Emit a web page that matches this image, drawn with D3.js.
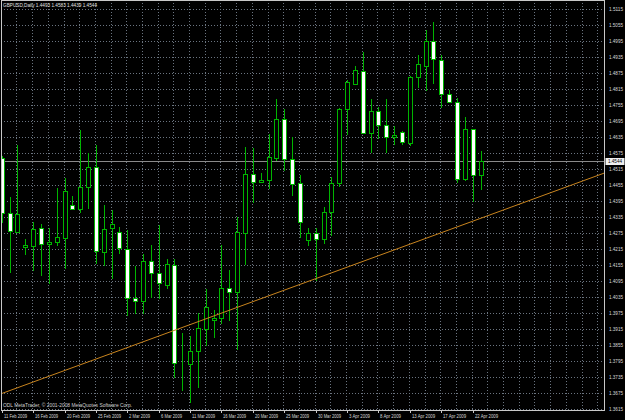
<!DOCTYPE html>
<html><head><meta charset="utf-8">
<script src="https://cdn.jsdelivr.net/npm/d3@7"></script>
<style>html,body{margin:0;padding:0;background:#000;}svg{display:block;}</style>
</head><body>
<script>
// ---------- data ----------
const symbol = "GBPUSD,Daily";
const dates = ["11 Feb","12 Feb","13 Feb","15 Feb","16 Feb","17 Feb","18 Feb","19 Feb","20 Feb",
 "22 Feb","23 Feb","24 Feb","25 Feb","26 Feb","27 Feb",
 "1 Mar","2 Mar","3 Mar","4 Mar","5 Mar","6 Mar",
 "8 Mar","9 Mar","10 Mar","11 Mar","12 Mar","13 Mar",
 "15 Mar","16 Mar","17 Mar","18 Mar","19 Mar","20 Mar",
 "22 Mar","23 Mar","24 Mar","25 Mar","26 Mar","27 Mar",
 "29 Mar","30 Mar","31 Mar","1 Apr","2 Apr","3 Apr",
 "5 Apr","6 Apr","7 Apr","8 Apr","9 Apr","10 Apr",
 "12 Apr","13 Apr","14 Apr","15 Apr","16 Apr","17 Apr",
 "19 Apr","20 Apr","21 Apr","22 Apr","23 Apr"];
const open  = [1.4555,1.4349,1.4280,1.4223,1.4227,1.4293,1.4233,1.4242,1.4257,1.4379,1.4364,1.4446,1.4521,1.4203,1.4293,1.4278,1.4214,1.4032,1.4020,1.4170,1.4124,1.4080,1.4154,1.3785,1.3783,1.3833,1.3914,1.3949,1.3955,1.4068,1.4055,1.4274,1.4495,1.4465,1.4474,1.4557,1.4701,1.4551,1.4461,1.4249,1.4274,1.4251,1.4355,1.4461,1.4739,1.4834,1.4884,1.4649,1.4731,1.4679,1.4634,1.4653,1.4611,1.4859,1.4902,1.4996,1.4924,1.4796,1.4767,1.4479,1.4664,1.4493];
const high  = [1.4562,1.4411,1.4605,1.4251,1.4317,1.4308,1.4295,1.4443,1.4480,1.4414,1.4661,1.4576,1.4605,1.4380,1.4361,1.4299,1.4286,1.4152,1.4196,1.4230,1.4305,1.4176,1.4176,1.3899,1.3889,1.3975,1.4064,1.3986,1.4230,1.4136,1.4334,1.4596,1.4593,1.4499,1.4646,1.4776,1.4739,1.4634,1.4493,1.4293,1.4293,1.4374,1.4484,1.4743,1.4849,1.4901,1.4955,1.4776,1.4746,1.4776,1.4676,1.4659,1.4864,1.4943,1.5036,1.5067,1.4943,1.4811,1.4780,1.4709,1.4664,1.4583];
const low   = [1.4316,1.4130,1.4279,1.4195,1.4136,1.4118,1.4086,1.4230,1.4143,1.4366,1.4355,1.4370,1.4161,1.4155,1.4105,1.4199,1.3968,1.3974,1.3974,1.4036,1.4030,1.4068,1.3736,1.3686,1.3642,1.3699,1.3855,1.3886,1.3938,1.3949,1.3840,1.4159,1.4392,1.4465,1.4445,1.4549,1.4511,1.4418,1.4261,1.4230,1.4099,1.4236,1.4268,1.4451,1.4646,1.4834,1.4649,1.4580,1.4630,1.4580,1.4609,1.4609,1.4605,1.4824,1.4811,1.4836,1.4746,1.4767,1.4467,1.4474,1.4396,1.4439];
const close = [1.4349,1.4283,1.4345,1.4230,1.4290,1.4234,1.4242,1.4259,1.4433,1.4366,1.4449,1.4521,1.4208,1.4290,1.4308,1.4218,1.4030,1.4020,1.4170,1.4124,1.4089,1.4158,1.3786,1.3785,1.3833,1.3918,1.3996,1.3956,1.4068,1.4055,1.4278,1.4495,1.4467,1.4474,1.4561,1.4701,1.4551,1.4459,1.4317,1.4274,1.4253,1.4355,1.4461,1.4739,1.4842,1.4886,1.4651,1.4734,1.4679,1.4634,1.4643,1.4617,1.4861,1.4909,1.4996,1.4928,1.4796,1.4767,1.4476,1.4664,1.4494,1.4544];
const priceTicks = ["1.5115","1.5055","1.4995","1.4935","1.4875","1.4815","1.4755","1.4695","1.4635","1.4575","1.4515","1.4455","1.4395","1.4335","1.4275","1.4215","1.4155","1.4095","1.4035","1.3975","1.3915","1.3855","1.3795","1.3735","1.3675","1.3615"];
const dateTickIdx = [0,4,8,12,16,20,24,28,32,36,40,44,48,52,56,60];
const dateTickLabels = ["11 Feb 2009","16 Feb 2009","20 Feb 2009","25 Feb 2009","2 Mar 2009","6 Mar 2009","11 Mar 2009","16 Mar 2009","20 Mar 2009","25 Mar 2009","30 Mar 2009","3 Apr 2009","8 Apr 2009","13 Apr 2009","17 Apr 2009","22 Apr 2009"];
const bidPrice = 1.4544;
const trendBars = [0, 61];
const trendPrices = [1.3673, 1.4330];
const copyright = "ODL MetaTrader, \u00A9 2001-2008 MetaQuotes Software Corp.";

// ---------- drawing ----------
const W = 625, H = 420;
const plotL = 1, plotR = 604, plotT = 0, plotB = 410;
const FONT = "'Liberation Sans', Arial, sans-serif";
const svg = d3.select("body").append("svg").attr("width", W).attr("height", H)
  .style("font-family", FONT);
svg.append("rect").attr("width", W).attr("height", H).attr("fill", "#000");

const y = d3.scaleLinear().domain([1.3615, 1.5115]).range([409, 9]);
const x = d3.scaleLinear().domain([0, 61]).range([1.7, 1.7 + 61 * 7.85]);
const maxIdx = Math.floor(x.invert(plotR - 2));

const grid = svg.append("g").attr("stroke", "#6a7480").attr("stroke-width", 1).attr("stroke-dasharray", "1,2");
priceTicks.forEach(t => {
  const yy = Math.round(y(+t)) + 0.5;
  grid.append("line").attr("x1", plotL).attr("x2", plotR).attr("y1", yy).attr("y2", yy);
});
d3.range(0, maxIdx + 1, 2).forEach(i => {
  const xx = Math.round(x(i)) - 0.5;
  grid.append("line").attr("x1", xx).attr("x2", xx).attr("y1", plotT).attr("y2", plotB);
});

// clip
svg.append("clipPath").attr("id", "clip").append("rect")
  .attr("x", plotL).attr("y", plotT).attr("width", plotR - plotL).attr("height", plotB - plotT);
const plot = svg.append("g").attr("clip-path", "url(#clip)");

// bid line
const by = Math.round(y(bidPrice)) + 0.5;
plot.append("line").attr("x1", plotL).attr("x2", plotR).attr("y1", by).attr("y2", by)
  .attr("stroke", "#8a8a8a").attr("stroke-width", 1);

// candles
const green = "#00b400";
const idx = d3.range(open.length);
const cg = plot.append("g");
cg.selectAll("line.wick").data(idx).join("line").attr("class", "wick")
  .attr("x1", i => Math.round(x(i)) + 0.5).attr("x2", i => Math.round(x(i)) + 0.5)
  .attr("y1", i => Math.round(y(high[i]))).attr("y2", i => Math.round(y(low[i])) + 1)
  .attr("stroke", green).attr("stroke-width", 1);
cg.selectAll("rect.body").data(idx).join("rect").attr("class", "body")
  .attr("x", i => Math.round(x(i)) - 2 + 0.5)
  .attr("width", 4)
  .attr("y", i => Math.round(y(Math.max(open[i], close[i]))) + 0.5)
  .attr("height", i => Math.max(0, Math.round(y(Math.min(open[i], close[i]))) - Math.round(y(Math.max(open[i], close[i])))))
  .attr("fill", i => close[i] >= open[i] ? "#000" : "#fff")
  .attr("stroke", green).attr("stroke-width", 1);

// trend line (extended)
const slope = (trendPrices[1] - trendPrices[0]) / (trendBars[1] - trendBars[0]);
const tb0 = x.invert(plotL - 2), tb1 = x.invert(plotR + 2);
plot.append("line")
  .attr("x1", x(tb0)).attr("y1", y(trendPrices[0] + slope * (tb0 - trendBars[0])))
  .attr("x2", x(tb1)).attr("y2", y(trendPrices[0] + slope * (tb1 - trendBars[0])))
  .attr("stroke", "#c8841e").attr("stroke-width", 1);

// frame
svg.append("rect").attr("x", plotL + 0.5).attr("y", plotT + 0.5)
  .attr("width", plotR - plotL).attr("height", plotB - plotT)
  .attr("fill", "none").attr("stroke", "#c8c8c8").attr("stroke-width", 1);

// price labels
const pl = svg.append("g").attr("fill", "#d8d8d8").attr("font-size", 5);
priceTicks.forEach(t => {
  const yy = Math.round(y(+t)) + 0.5;
  pl.append("text").attr("x", 609).attr("y", yy).attr("dy", "0.35em")
    .attr("textLength", 14).attr("lengthAdjust", "spacingAndGlyphs").text(t);
});
// bid label
svg.append("rect").attr("x", 605.5).attr("y", by - 3.5).attr("width", 19).attr("height", 7).attr("fill", "#f0f0f0");
svg.append("text").attr("x", 608).attr("y", by).attr("dy", "0.35em").attr("font-size", 5)
  .attr("textLength", 14).attr("lengthAdjust", "spacingAndGlyphs")
  .attr("fill", "#000").text(d3.format(".4f")(bidPrice));

// date labels
const dl = svg.append("g").attr("fill", "#d8d8d8").attr("font-size", 5);
dateTickIdx.forEach((i, k) => {
  const xx = Math.round(x(i)) + 0.5;
  svg.append("line").attr("x1", xx).attr("x2", xx).attr("y1", plotB).attr("y2", plotB + 3).attr("stroke", "#c8c8c8");
  const lab = dateTickLabels[k];
  dl.append("text").attr("x", xx + 1.5).attr("y", 418)
    .attr("textLength", lab.length >= 11 ? 23 : 21).attr("lengthAdjust", "spacingAndGlyphs").text(lab);
});

// title
const last = open.length - 1;
svg.append("text").attr("x", 3).attr("y", 7).attr("font-size", 5).attr("fill", "#e0e0e0")
  .attr("textLength", 94).attr("lengthAdjust", "spacingAndGlyphs")
  .text(`${symbol} ${open[last].toFixed(4)} ${high[last].toFixed(4)} ${low[last].toFixed(4)} ${close[last].toFixed(4)}`);
// copyright
svg.append("text").attr("x", 3).attr("y", 407).attr("font-size", 5).attr("fill", "#d0d0d0")
  .attr("textLength", 129).attr("lengthAdjust", "spacingAndGlyphs").text(copyright);
</script>
</body></html>
